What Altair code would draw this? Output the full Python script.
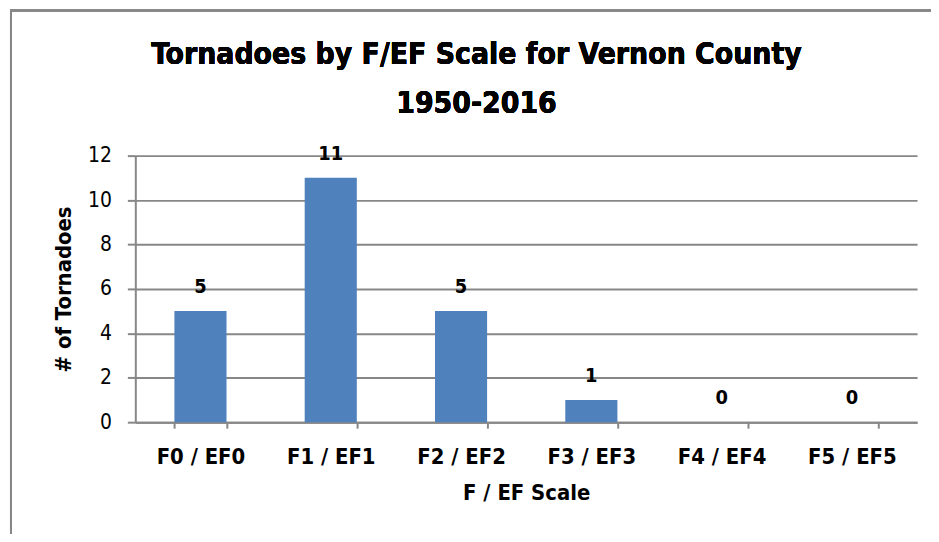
import altair as alt
import pandas as pd

categories = ["F0 / EF0", "F1 / EF1", "F2 / EF2", "F3 / EF3", "F4 / EF4", "F5 / EF5"]
counts = [5, 11, 5, 1, 0, 0]
y_ticks = [0, 2, 4, 6, 8, 10, 12]
title_lines = ["Tornadoes by F/EF Scale for Vernon County", "1950-2016"]

df = pd.DataFrame({"scale": categories, "count": counts})

FONT = "DejaVu Sans Condensed, Lato"
GRAY = "#878787"
W, H = 786, 268

x_enc = alt.X(
    "scale:N",
    sort=categories,
    scale=alt.Scale(paddingInner=0.6, paddingOuter=0.3),
    axis=alt.Axis(
        title="F / EF Scale",
        labelAngle=0,
        tickBand="extent",
        tickSize=6,
        tickWidth=2,
        tickColor=GRAY,
        domainColor=GRAY,
        domainWidth=2,
        grid=False,
        labelFont=FONT,
        labelFontSize=22,
        labelFontWeight="bold",
        labelColor="#000000",
        labelPadding=19,
        titleFont=FONT,
        titleFontSize=22,
        titleFontWeight="bold",
        titleColor="#000000",
        titlePadding=15,
    ),
)
y_enc = alt.Y(
    "count:Q",
    scale=alt.Scale(domain=[0, 12], nice=False),
    axis=alt.Axis(
        title="# of Tornadoes",
        values=y_ticks,
        tickSize=8,
        tickWidth=2,
        tickColor=GRAY,
        domainColor=GRAY,
        domainWidth=2,
        gridColor=GRAY,
        gridWidth=2,
        labelFont=FONT,
        labelFontSize=21,
        labelColor="#000000",
        labelPadding=16,
        titleFont=FONT,
        titleFontSize=22,
        titleFontWeight="bold",
        titleColor="#000000",
        titlePadding=12,
    ),
)

bars = alt.Chart(df).mark_bar(color="#4F81BD").encode(x=x_enc, y=y_enc)

labels = alt.Chart(df).mark_text(
    font=FONT, fontSize=20, fontWeight="bold", color="#000000",
    baseline="alphabetic", dy=-18,
).encode(x=alt.X("scale:N", sort=categories), y="count:Q", text="count:Q")

title1 = alt.Chart(df).mark_text(
    font=FONT, fontSize=30, fontWeight="bold", color="#000000",
    baseline="alphabetic", align="center",
).encode(x=alt.value(343), y=alt.value(-92), text=alt.value(title_lines[0]))
title2 = alt.Chart(df).mark_text(
    font=FONT, fontSize=30, fontWeight="bold", color="#000000",
    baseline="alphabetic", align="center",
).encode(x=alt.value(343), y=alt.value(-43), text=alt.value(title_lines[1]))

frame_left = alt.Chart(df).mark_rule(color=GRAY, strokeWidth=2).encode(
    x=alt.value(-125), y=alt.value(-146), y2=alt.value(H + 120)
)
frame_top = alt.Chart(df).mark_rule(color=GRAY, strokeWidth=2).encode(
    x=alt.value(-126), x2=alt.value(W + 20), y=alt.value(-146)
)

chart = (
    alt.layer(bars, labels, title1, title2, frame_left, frame_top)
    .properties(
        width=W,
        height=H,
        autosize=alt.AutoSizeParams(type="none"),
        padding={"left": 128, "top": 147, "right": 14, "bottom": 111},
    )
    .configure_view(stroke=None)
)

chart.save("out.html", embed_options={"renderer": "svg", "actions": False})
